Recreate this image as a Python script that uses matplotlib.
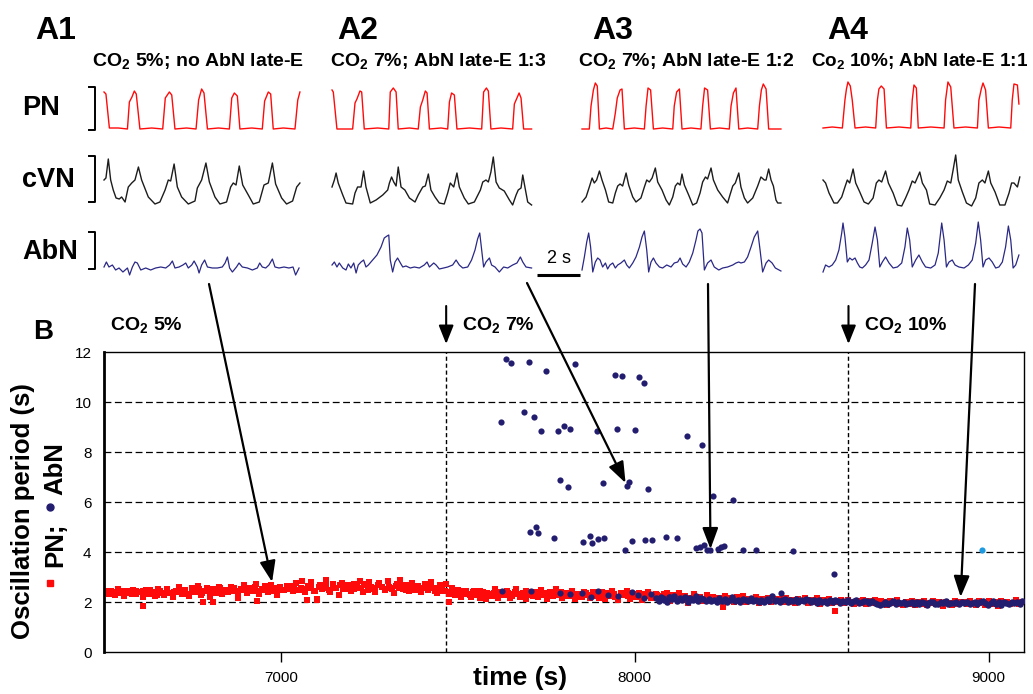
import numpy as np
import matplotlib
matplotlib.use("Agg")
import matplotlib.pyplot as plt
from matplotlib.lines import Line2D

plt.rcParams['font.family'] = ['Liberation Sans', 'DejaVu Sans']
plt.rcParams['mathtext.fontset'] = 'custom'
plt.rcParams['mathtext.rm'] = 'Liberation Sans'
plt.rcParams['mathtext.bf'] = 'Liberation Sans:bold'

# ---------------- panel B data ----------------
# PN period (s), breath by breath, 6505 s .. 9095 s
red_y = [
    2.46, 2.33, 2.42, 2.28, 2.52, 2.38, 2.24, 2.44, 2.36, 2.50, 2.31, 2.40, 2.20, 2.48, 2.34, 2.42, 2.26, 2.54, 2.38, 2.30,
    2.52, 2.36, 2.20, 2.46, 2.60, 2.32, 2.50, 2.24, 2.55, 2.42, 2.64, 2.30, 2.46, 2.58, 2.22, 2.50, 2.38, 2.62, 2.34, 2.48,
    2.40, 2.62, 2.46, 2.18, 2.54, 2.68, 2.36, 2.58, 2.44, 2.74, 2.32, 2.50, 2.64, 2.42, 2.70, 2.47, 2.28, 2.60, 2.48, 2.66,
    2.66, 2.44, 2.76, 2.50, 2.84, 2.40, 2.60, 2.80, 2.46, 2.14, 2.70, 2.55, 2.90, 2.42, 2.72, 2.56, 2.30, 2.78, 2.52, 2.68,
    2.46, 2.74, 2.58, 2.84, 2.40, 2.68, 2.80, 2.54, 2.42, 2.78, 2.62, 2.48, 2.86, 2.58, 2.36, 2.74, 2.88, 2.52, 2.68, 2.44,
    2.76, 2.50, 2.66, 2.40, 2.72, 2.48, 2.82, 2.58, 2.36, 2.68, 2.44, 2.74, 2.34, 2.56, 2.28, 2.50, 2.22, 2.44, 2.32, 2.20,
    2.46, 2.28, 2.18, 2.40, 2.12, 2.34, 2.24, 2.52, 2.16, 2.38, 2.28, 2.44, 2.18, 2.32, 2.52, 2.22, 2.36, 2.14, 2.42, 2.28,
    2.40, 2.20, 2.48, 2.30, 2.14, 2.42, 2.24, 2.52, 2.32, 2.16, 2.38, 2.26, 2.46, 2.12, 2.34, 2.22, 2.42, 2.30, 2.18, 2.40,
    2.32, 2.18, 2.40, 2.12, 2.28, 2.46, 2.22, 2.08, 2.36, 2.27, 2.44, 2.14, 2.32, 2.20, 2.38, 2.10, 2.28, 2.42, 2.16, 2.26,
    2.28, 2.12, 2.34, 2.20, 2.06, 2.30, 2.14, 2.36, 2.08, 2.24, 1.98, 2.18, 2.32, 2.10, 2.22, 2.04, 2.28, 2.14, 2.20, 2.08,
    2.18, 2.04, 2.24, 2.08, 2.16, 2.00, 2.20, 2.10, 2.26, 2.02, 2.14, 2.06, 2.22, 1.98, 2.12, 2.08, 2.18, 2.02, 2.14, 2.06,
    2.14, 2.00, 2.16, 2.02, 2.10, 1.96, 2.12, 2.04, 2.18, 1.98, 2.08, 2.02, 2.16, 1.94, 2.10, 2.02, 2.14, 1.98, 2.06, 2.00,
    2.08, 1.96, 2.10, 2.00, 1.92, 2.06, 1.98, 2.10, 1.92, 2.04, 1.96, 2.08, 1.94, 2.06, 2.00, 1.90, 2.04, 1.96, 2.10, 1.94,
    1.88, 2.02, 1.94, 2.06, 1.90, 2.00, 1.94, 2.04, 1.88, 1.98, 2.06, 1.92, 2.00, 1.86, 2.02, 1.96, 1.90, 2.04, 1.92, 2.00,
    2.02, 1.92, 2.06, 1.96, 1.88, 2.04, 1.98, 1.90, 2.06, 1.94, 2.00, 1.86, 2.04, 1.96, 2.02, 1.92, 1.98, 2.08, 1.94, 2.02,
]
red_t = np.linspace(6505, 9095, len(red_y))
# the breaths in between, 6510 s .. 8090 s (where the band is not hidden by AbN)
red_y2 = [
    2.38, 2.44, 2.34, 2.42, 2.46, 2.36, 2.40, 2.32, 2.45, 2.39,
    2.43, 2.35, 2.47, 2.40, 2.30, 2.44, 2.38, 2.49, 2.36, 2.42,
    2.40, 2.50, 2.44, 2.34, 2.48, 2.42, 2.52, 2.38, 2.46, 2.41,
    2.52, 2.44, 2.56, 2.40, 2.50, 2.46, 2.58, 2.42, 2.48, 2.54,
    2.56, 2.48, 2.60, 2.46, 2.54, 2.62, 2.50, 2.44, 2.58, 2.52,
    2.50, 2.60, 2.54, 2.66, 2.48, 2.58, 2.52, 2.64, 2.56, 2.46,
    2.62, 2.54, 2.68, 2.50, 2.60, 2.56, 2.70, 2.52, 2.64, 2.58,
    2.54, 2.64, 2.58, 2.72, 2.50, 2.62, 2.56, 2.68, 2.60, 2.52,
    2.60, 2.52, 2.66, 2.56, 2.70, 2.50, 2.62, 2.58, 2.64, 2.54,
    2.56, 2.48, 2.62, 2.44, 2.52, 2.58, 2.46, 2.40, 2.50, 2.42,
    2.42, 2.34, 2.46, 2.30, 2.40, 2.36, 2.44, 2.32, 2.38, 2.28,
    2.36, 2.28, 2.42, 2.32, 2.38, 2.26, 2.40, 2.34, 2.30, 2.44,
    2.34, 2.26, 2.40, 2.30, 2.36, 2.24, 2.38, 2.32, 2.28, 2.42,
    2.32, 2.24, 2.38, 2.28, 2.34, 2.22, 2.36, 2.30, 2.26, 2.40,
    2.30, 2.22, 2.36, 2.26, 2.32, 2.20, 2.34, 2.28, 2.24, 2.38,
    2.28, 2.20, 2.34, 2.24, 2.30, 2.18, 2.32, 2.26, 2.22, 2.36,
]
red_t2 = np.linspace(6510, 8090, len(red_y2))
red_out_t = [6610, 6780, 6808, 6933, 7074, 7102, 7474, 8250, 8565]
red_out_y = [1.84, 2.00, 2.00, 2.04, 2.10, 2.08, 2.00, 1.82, 1.65]

# AbN period (s) once AbN bursts every breath, 8060 s .. 9095 s
blue_y = [
    2.18, 2.06, 2.22, 2.09, 2.02, 2.19, 2.12, 2.25, 2.05, 2.16, 2.08, 2.21, 2.01, 2.15, 2.10, 2.24, 2.04, 2.16, 2.11, 2.06,
    2.14, 2.03, 2.10, 1.99, 2.17, 2.06, 2.12, 2.02, 2.09, 2.20, 2.04, 2.10, 2.00, 2.14, 2.08, 2.03, 2.16, 2.06, 2.10, 2.01,
    2.10, 2.01, 2.13, 2.05, 2.24, 2.03, 2.10, 1.99, 2.08, 2.14, 2.02, 2.10, 2.05, 2.12, 2.00, 2.08, 2.03, 2.11, 2.07, 2.01,
    2.07, 1.98, 2.10, 2.02, 2.05, 1.96, 2.08, 2.00, 2.07, 2.04, 1.95, 2.06, 2.00, 2.09, 1.98, 2.04, 2.07, 1.97, 2.02, 2.06,
    2.03, 1.95, 2.06, 1.98, 1.92, 1.90, 1.94, 2.00, 1.91, 1.97, 2.03, 1.93, 1.99, 1.96, 2.02, 1.91, 1.97, 2.01, 1.94, 1.99,
    1.93, 2.01, 1.96, 1.90, 1.99, 2.02, 1.94, 1.91, 1.99, 1.96, 2.04, 1.93, 1.98, 1.95, 2.01, 1.91, 1.99, 1.96, 2.02, 1.93,
    1.96, 2.02, 1.93, 1.99, 2.05, 1.95, 1.90, 1.98, 2.04, 1.93, 1.99, 1.89, 2.01, 1.96, 1.92, 2.02, 1.95, 1.99, 1.93, 2.04,
]
blue_t = np.linspace(8060, 9095, len(blue_y))
blue_mid_t = [7626, 7708, 7790, 7818, 7852, 7875, 7897, 7925, 7954, 7993, 8010, 8027, 8045, 8079, 8100, 8412]
blue_mid_y = [2.44, 2.44, 2.36, 2.32, 2.36, 2.22, 2.44, 2.28, 2.24, 2.40, 2.30, 2.16, 2.32, 2.16, 2.20, 2.36]
blue_hi_t = [7623, 7637, 7649, 7700, 7748, 7832, 7943, 7965, 8013, 8025, 7688, 7716, 7736, 7782, 7801,
             7818, 7892, 7951, 8002, 8149, 8189, 7790, 7810, 7909, 7979, 7985, 8036, 8220, 8279, 7705,
             7722, 7727, 7773, 7855, 7874, 7880, 7897, 7914, 7971, 7991, 8030, 8050, 8087, 8118, 8172,
             8183, 8197, 8205, 8214, 8234, 8243, 8251, 8305, 8344, 8446, 8562]
blue_hi_y = [9.2, 11.72, 11.56, 11.6, 11.24, 11.53, 11.08, 11.04, 11.0, 10.76, 9.6, 9.4, 8.84, 8.84, 9.04,
             8.92, 8.84, 8.92, 8.88, 8.64, 8.28, 6.88, 6.6, 6.76, 6.64, 6.8, 6.52, 6.24, 6.08, 4.8,
             5.0, 4.76, 4.56, 4.4, 4.64, 4.36, 4.52, 4.56, 4.08, 4.44, 4.48, 4.48, 4.6, 4.56, 4.16,
             4.2, 4.28, 4.08, 4.08, 4.12, 4.2, 4.24, 4.08, 4.08, 4.04, 3.12]
cyan_t, cyan_y = [8981], [4.08]

co2_7_time = 7467
co2_10_time = 8604
arrow_targets_t = [6975, 7974, 8214, 8921]   # where A1..A4 recordings sit on the time axis
arrow_targets_y = [2.8, 6.76, 4.12, 2.2]

# ---------------- panel A traces (time s, amplitude a.u.) ----------------
a1_pn_t = [0.00, 0.09, 0.25, 0.67, 1.09, 1.18, 1.30, 1.41, 1.50, 1.67, 2.22, 2.73, 2.85, 3.04, 3.15, 3.30, 3.84, 4.28, 4.40,
           4.54, 4.65, 4.81, 5.32, 5.83, 5.94, 6.06, 6.20, 6.32, 6.87, 7.36, 7.47, 7.64, 7.75, 7.87, 8.34, 8.88, 9.01, 9.11]
a1_pn_v = [37, 35, 1, 1, 0, 27, 32, 38, 35, 0, 1, 0, 31, 37, 34, 0, 1, 0, 29, 40, 36, 0, 1, 0, 31, 36, 33, 0, 1, 0, 28, 37,
           35, 0, 1, 0, 29, 37]
a1_cvn_t = [0.00, 0.09, 0.20, 0.31, 0.43, 0.56, 0.71, 0.82, 0.98, 1.13, 1.29, 1.44, 1.60, 1.75, 2.06, 2.37, 2.60, 2.84, 2.99,
            3.10, 3.26, 3.41, 3.61, 3.92, 4.23, 4.34, 4.54, 4.74, 4.90, 5.16, 5.39, 5.70, 5.89, 6.01, 6.14, 6.29, 6.45, 6.71,
            6.94, 7.22, 7.44, 7.64, 7.83, 7.98, 8.26, 8.49, 8.77, 8.96, 9.11]
a1_cvn_v = [26, 28, 47, 26, 16, 8, 7, 9, 4, 19, 23, 26, 39, 26, 9, 2, 4, 16, 26, 25, 42, 19, 9, 2, 5, 18, 26, 43, 24, 9, 2,
            4, 19, 23, 21, 40, 21, 11, 2, 4, 21, 23, 43, 22, 8, 2, 5, 19, 23]
a1_abn_t = [0.00, 0.11, 0.23, 0.39, 0.54, 0.70, 0.88, 1.09, 1.19, 1.32, 1.44, 1.55, 1.71, 1.94, 2.17, 2.40, 2.64, 2.87, 3.05,
            3.18, 3.30, 3.49, 3.67, 3.80, 3.92, 4.08, 4.19, 4.34, 4.42, 4.54, 4.68, 4.81, 5.04, 5.27, 5.50, 5.63, 5.74, 5.84,
            5.97, 6.16, 6.28, 6.43, 6.67, 6.90, 7.13, 7.24, 7.36, 7.52, 7.67, 7.83, 7.95, 8.14, 8.37, 8.60, 8.79, 8.91, 9.07]
a1_abn_v = [5, 10, 5, 7, 2, 4, 0, 4, -3, 5, 10, 9, 2, 4, 2, 4, 5, 4, 7, 11, 4, 5, 7, 9, 4, 7, 11, 5, -1, 7, 12, 5, 4, 4, 5,
            9, 15, 4, 0, 5, 9, 5, 4, 2, 4, 9, 5, 4, 7, 13, 5, 4, 5, 4, 5, -3, 4]

a2_pn_t = [0.00, 0.06, 0.23, 0.96, 1.07, 1.16, 1.30, 1.38, 1.50, 2.12, 2.64, 2.71, 2.85, 2.98, 3.08, 3.60, 4.01, 4.11, 4.22,
           4.34, 4.42, 4.53, 5.07, 5.38, 5.46, 5.56, 5.69, 5.81, 6.39, 6.96, 7.05, 7.18, 7.27, 7.39, 7.86, 8.40, 8.48, 8.60,
           8.70, 8.79, 8.91, 9.28]
a2_pn_v = [39, 37, 0, 0, 26, 30, 38, 37, 0, 1, 0, 37, 41, 37, 0, 1, 0, 22, 29, 38, 36, 0, 1, 0, 27, 36, 34, 0, 1, 0, 37, 41,
           38, 0, 1, 0, 25, 31, 36, 31, 0, 0]
a2_cvn_t = [0.00, 0.11, 0.19, 0.29, 0.50, 0.65, 0.96, 1.07, 1.19, 1.35, 1.47, 1.58, 1.78, 2.05, 2.36, 2.59, 2.67, 2.77, 2.87,
            2.98, 3.08, 3.21, 3.39, 3.60, 3.86, 4.01, 4.22, 4.34, 4.48, 4.60, 4.79, 4.99, 5.22, 5.38, 5.50, 5.66, 5.81, 5.92,
            6.15, 6.34, 6.62, 6.90, 7.01, 7.16, 7.27, 7.39, 7.50, 7.63, 7.78, 8.01, 8.25, 8.40, 8.56, 8.66, 8.79, 8.87, 8.97,
            9.10, 9.28]
a2_cvn_v = [19, 26, 33, 23, 11, 3, 2, 13, 19, 19, 35, 19, 3, 6, 11, 16, 23, 29, 24, 20, 39, 19, 16, 8, 4, 11, 19, 20, 32, 16,
            9, 3, 2, 13, 23, 19, 33, 19, 8, 2, 4, 16, 24, 26, 24, 34, 49, 24, 18, 15, 6, 1, 11, 16, 18, 31, 19, 4, 1]
a2_abn_t = [0.00, 0.11, 0.23, 0.34, 0.50, 0.65, 0.76, 0.88, 1.01, 1.12, 1.22, 1.35, 1.47, 1.58, 1.69, 1.89, 2.09, 2.28, 2.43,
            2.56, 2.64, 2.71, 2.82, 2.93, 3.05, 3.18, 3.29, 3.44, 3.64, 3.83, 4.06, 4.29, 4.42, 4.53, 4.73, 4.84, 4.99, 5.19,
            5.38, 5.61, 5.77, 5.92, 6.08, 6.31, 6.49, 6.65, 6.77, 6.87, 6.96, 7.05, 7.16, 7.32, 7.42, 7.58, 7.78, 7.98, 8.17,
            8.40, 8.60, 8.76, 8.87, 9.02, 9.28]
a2_abn_v = [7, 10, 5, 9, 4, 2, 8, 4, 9, -1, 7, 10, 12, 5, 7, 12, 17, 25, 34, 36, 37, 12, 0, 10, 14, 9, 5, 6, 4, 5, 4, 7, 10,
            5, 9, 7, 3, 4, 5, 7, 12, 7, 4, 5, 12, 22, 33, 39, 22, 5, 10, 14, 7, 5, 0, 5, 4, 7, 9, 15, 10, 5, 4]

a3_pn_t = [0.00, 0.34, 0.42, 0.53, 0.62, 0.71, 0.81, 1.12, 1.43, 1.55, 1.64, 1.77, 1.86, 1.97, 2.43, 2.90, 2.98, 3.07, 3.19,
           3.32, 3.75, 4.22, 4.29, 4.40, 4.53, 4.65, 5.07, 5.53, 5.61, 5.70, 5.84, 5.97, 6.39, 6.85, 6.93, 7.04, 7.16, 7.29,
           7.70, 8.17, 8.25, 8.34, 8.43, 8.56, 8.68, 9.25]
a3_pn_v = [0, 0, 23, 39, 46, 43, 0, 1, 0, 16, 31, 39, 40, 0, 1, 0, 23, 41, 39, 0, 1, 0, 23, 37, 40, 0, 1, 0, 23, 41, 39, 0,
           1, 0, 23, 36, 41, 0, 1, 0, 23, 39, 45, 40, 0, 0]
a3_cvn_t = [0.00, 0.19, 0.34, 0.47, 0.57, 0.68, 0.81, 0.93, 1.09, 1.24, 1.43, 1.55, 1.66, 1.77, 1.89, 2.05, 2.17, 2.36, 2.51,
            2.74, 2.90, 3.01, 3.13, 3.26, 3.41, 3.52, 3.72, 3.91, 4.06, 4.22, 4.34, 4.45, 4.56, 4.65, 4.76, 4.96, 5.15, 5.33,
            5.49, 5.61, 5.74, 5.84, 6.00, 6.11, 6.31, 6.54, 6.77, 6.88, 7.01, 7.13, 7.29, 7.39, 7.55, 7.70, 7.94, 8.17, 8.32,
            8.48, 8.56, 8.68, 8.79, 8.90, 9.02, 9.10, 9.25]
a3_cvn_v = [4, 9, 19, 28, 23, 26, 35, 26, 16, 4, 3, 13, 20, 22, 20, 33, 21, 9, 4, 8, 19, 26, 24, 28, 38, 24, 16, 6, 1, 9, 20,
            23, 21, 32, 21, 11, 1, 3, 13, 24, 29, 27, 38, 26, 16, 9, 3, 11, 20, 23, 33, 19, 8, 3, 8, 20, 29, 26, 26, 37, 26,
            20, 6, 3, 3]
a3_abn_t = [0.00, 0.11, 0.22, 0.31, 0.40, 0.50, 0.62, 0.73, 0.84, 0.96, 1.09, 1.19, 1.30, 1.43, 1.55, 1.66, 1.81, 1.97, 2.08,
            2.20, 2.36, 2.51, 2.67, 2.79, 2.90, 3.01, 3.10, 3.21, 3.32, 3.44, 3.60, 3.75, 3.94, 4.14, 4.29, 4.45, 4.56, 4.68,
            4.84, 4.99, 5.15, 5.30, 5.39, 5.49, 5.58, 5.69, 5.84, 6.00, 6.15, 6.36, 6.54, 6.77, 7.01, 7.16, 7.29, 7.39, 7.55,
            7.70, 7.86, 8.01, 8.17, 8.28, 8.40, 8.56, 8.68, 8.84, 8.99, 9.25]
a3_abn_v = [2, 15, 30, 39, 25, 0, 10, 14, 12, 5, 9, 3, 7, 9, 4, 7, 9, 12, 7, 4, 9, 15, 25, 35, 41, 22, 0, 10, 14, 9, 5, 4,
            7, 5, 9, 10, 14, 8, 5, 10, 19, 32, 41, 43, 39, 2, 9, 12, 5, 2, 4, 5, 7, 9, 10, 9, 10, 15, 25, 35, 41, 22, 0, 9,
            12, 9, 4, 1]

a4_pn_t = [0.00, 0.43, 0.90, 1.02, 1.09, 1.16, 1.27, 1.36, 1.49, 1.98, 2.45, 2.53, 2.60, 2.71, 2.84, 2.95, 3.53, 4.08, 4.15,
           4.23, 4.34, 4.43, 5.01, 5.63, 5.70, 5.81, 5.94, 6.09, 6.63, 7.18, 7.25, 7.36, 7.44, 7.56, 7.69, 8.18, 8.73, 8.80,
           8.88, 9.04, 9.11]
a4_pn_v = [1, 2, 1, 29, 40, 47, 43, 29, 1, 2, 1, 29, 40, 43, 40, 1, 2, 1, 29, 44, 41, 1, 2, 1, 29, 47, 42, 1, 2, 1, 29, 40,
           46, 39, 1, 2, 1, 29, 45, 44, 25]
a4_cvn_t = [0.00, 0.12, 0.28, 0.51, 0.67, 0.87, 1.02, 1.13, 1.24, 1.40, 1.52, 1.71, 1.91, 2.11, 2.33, 2.48, 2.60, 2.73, 2.91,
            3.04, 3.26, 3.46, 3.66, 3.84, 4.00, 4.15, 4.28, 4.50, 4.62, 4.81, 4.96, 5.21, 5.43, 5.63, 5.78, 5.94, 6.05, 6.17,
            6.29, 6.48, 6.67, 6.91, 7.10, 7.25, 7.41, 7.53, 7.69, 7.80, 8.00, 8.22, 8.46, 8.65, 8.77, 8.88, 9.04, 9.15]
a4_cvn_v = [26, 23, 13, 3, 3, 9, 19, 26, 23, 37, 23, 14, 4, 2, 8, 23, 26, 24, 35, 23, 13, 1, 0, 8, 16, 25, 23, 34, 23, 16, 2,
            1, 8, 16, 25, 23, 36, 51, 26, 14, 3, 0, 8, 23, 26, 23, 35, 23, 14, 1, 1, 13, 23, 23, 19, 29]
a4_abn_t = [0.00, 0.12, 0.28, 0.43, 0.59, 0.74, 0.87, 0.93, 1.02, 1.13, 1.24, 1.36, 1.49, 1.60, 1.71, 1.83, 1.98, 2.14, 2.29,
            2.42, 2.53, 2.64, 2.76, 2.91, 3.07, 3.26, 3.46, 3.66, 3.81, 3.92, 4.03, 4.15, 4.31, 4.46, 4.62, 4.77, 5.01, 5.21,
            5.36, 5.52, 5.63, 5.74, 5.86, 6.01, 6.14, 6.32, 6.56, 6.76, 6.94, 7.10, 7.22, 7.33, 7.44, 7.56, 7.72, 7.87, 8.03,
            8.18, 8.34, 8.49, 8.62, 8.73, 8.84, 8.96, 9.11]
a4_abn_v = [0, 7, 5, 7, 12, 22, 39, 49, 35, 10, 14, 12, 14, 9, 5, 4, 7, 12, 29, 45, 32, 5, 10, 15, 9, 4, 5, 9, 25, 44, 32,
            5, 12, 17, 10, 5, 4, 7, 19, 49, 32, 5, 10, 12, 7, 5, 4, 7, 12, 29, 50, 32, 5, 12, 14, 10, 4, 5, 10, 25, 46, 32,
            4, 7, 17]

panel_names = ['A1', 'A2', 'A3', 'A4']
panel_titles = ['CO$_\\mathbf{2}$ 5%; no AbN late-E', 'CO$_\\mathbf{2}$ 7%; AbN late-E 1:3',
                'CO$_\\mathbf{2}$ 7%; AbN late-E 1:2', 'Co$_\\mathbf{2}$ 10%; AbN late-E 1:1']

RED = '#ff0a0a'
NAVY = '#221d6e'
TRACE_NAVY = '#2a2885'

W, H = 1033, 694
fig = plt.figure(figsize=(W / 100, H / 100), dpi=100)


def fx(px):
    return px / W


def fy(py):
    return 1 - py / H


# ---------------- panel B ----------------
ax = fig.add_axes([fx(104), fy(652), (1024 - 104) / W, (652 - 352) / H])
ax.set_xlim(6500, 9100)
ax.set_ylim(0, 12)
for g in [2, 4, 6, 8, 10]:
    ax.axhline(g, color='k', lw=0.9, ls=(0, (5.5, 2.8)), zorder=1)
for v in [co2_7_time, co2_10_time]:
    ax.axvline(v, color='k', lw=1.0, ls=(0, (3, 2)), zorder=1)

ax.scatter(red_t, red_y, marker='s', s=22, color=RED, lw=0, zorder=2)
ax.scatter(red_t2, red_y2, marker='s', s=22, color=RED, lw=0, zorder=2)
ax.scatter(red_out_t, red_out_y, marker='s', s=22, color=RED, lw=0, zorder=2)
ax.scatter(blue_mid_t, blue_mid_y, marker='o', s=20, color=NAVY, lw=0, zorder=3)
ax.scatter(blue_t, blue_y, marker='o', s=22, color=NAVY, lw=0, zorder=3)
ax.scatter(blue_hi_t, blue_hi_y, marker='o', s=20, color=NAVY, lw=0, zorder=3)
ax.scatter(cyan_t, cyan_y, marker='o', s=20, color='#1e9be0', lw=0, zorder=3)

ax.set_yticks(range(0, 13, 2))
ax.set_xticks([7000, 8000, 9000])
ax.tick_params(axis='y', length=0, pad=9, labelsize=11)
ax.tick_params(axis='x', length=7, width=1, pad=7, labelsize=11, direction='out')
for side in ['top', 'right', 'bottom']:
    ax.spines[side].set_linewidth(1.0)
ax.spines['left'].set_linewidth(2.0)
ax.set_xlabel('time (s)', fontsize=19, fontweight='bold')
ax.xaxis.set_label_coords(0.452, -0.045)

# y label, two lines, second with marker keys
fig.text(fx(23), fy(511), 'Oscillation period (s)', rotation=90, ha='center', va='center',
         fontsize=18.5, fontweight='bold')
fig.add_artist(Line2D([fx(50)], [fy(583)], marker='s', ms=5, color=RED, lw=0, transform=fig.transFigure))
fig.text(fx(55), fy(545), 'PN;', rotation=90, ha='center', va='center', fontsize=18.5, fontweight='bold')
fig.add_artist(Line2D([fx(50)], [fy(507)], marker='o', ms=5, color=NAVY, lw=0, transform=fig.transFigure))
fig.text(fx(55), fy(469), 'AbN', rotation=90, ha='center', va='center', fontsize=18.5, fontweight='bold')

fig.text(fx(33), fy(339), 'B', fontsize=20, fontweight='bold', va='baseline')
fig.text(fx(110), fy(331), 'CO$_\\mathbf{2}$ 5%', fontsize=14, fontweight='bold', va='baseline')
fig.text(fx(462), fy(331), 'CO$_\\mathbf{2}$ 7%', fontsize=14, fontweight='bold', va='baseline')
fig.text(fx(864), fy(331), 'CO$_\\mathbf{2}$ 10%', fontsize=14, fontweight='bold', va='baseline')

small_arrow = dict(arrowstyle='-|>,head_length=0.75,head_width=0.3', lw=1.5, color='k',
                   shrinkA=0, shrinkB=0, mutation_scale=15)
for v in [co2_7_time, co2_10_time]:
    ax.annotate('', xy=(v, fy(344)), xytext=(v, fy(306)), xycoords=('data', 'figure fraction'),
                textcoords=('data', 'figure fraction'), arrowprops=small_arrow, annotation_clip=False)

# long arrows from each recording to its place on the time axis
tails = [(209, 284), (527, 283), (708, 284), (975, 284)]
big_arrow = dict(arrowstyle='-|>,head_length=0.8,head_width=0.3', lw=1.6, color='k',
                 shrinkA=0, shrinkB=0, mutation_scale=16)
for (tx, ty), at, ay in zip(tails, arrow_targets_t, arrow_targets_y):
    ax.annotate('', xy=(at, ay), xytext=(fx(tx), fy(ty)), xycoords='data',
                textcoords='figure fraction', arrowprops=big_arrow, annotation_clip=False, zorder=5)

# ---------------- panel A traces ----------------
panel_left = [104, 332, 582, 823]
traces = [
    [(a1_pn_t, a1_pn_v), (a1_cvn_t, a1_cvn_v), (a1_abn_t, a1_abn_v)],
    [(a2_pn_t, a2_pn_v), (a2_cvn_t, a2_cvn_v), (a2_abn_t, a2_abn_v)],
    [(a3_pn_t, a3_pn_v), (a3_cvn_t, a3_cvn_v), (a3_abn_t, a3_abn_v)],
    [(a4_pn_t, a4_pn_v), (a4_cvn_t, a4_cvn_v), (a4_abn_t, a4_abn_v)],
]
row_offset = [151, 74, 8]
row_color = [RED, '#1c1c1c', TRACE_NAVY]
row_lw = [1.0, 1.0, 0.9]
trace_axes = []
for left, rows in zip(panel_left, traces):
    ta = fig.add_axes([fx(left), fy(280), 200 / W, 200 / H])
    ta.set_xlim(0, 9.3)
    ta.set_ylim(0, 200)
    ta.axis('off')
    for (t, v), off, c, lw in zip(rows, row_offset, row_color, row_lw):
        ta.plot(t, np.array(v) + off, color=c, lw=lw, clip_on=False)
    trace_axes.append(ta)

# calibration brackets next to A1
ta1 = trace_axes[0]
for top, bot in [(193, 150), (124, 78), (48, 11)]:
    ta1.plot([-0.70, -0.42, -0.42, -0.70], [top, top, bot, bot], color='k', lw=1.4, clip_on=False)

# 2 s scale bar next to A3
ta3 = trace_axes[2]
ta3.plot([-2.09, -0.09], [5, 5], color='k', lw=2.2, clip_on=False, solid_capstyle='butt')
ta3.text(-1.09, 17, '2 s', ha='center', va='baseline', fontsize=13)

# labels
title_x = [92, 330, 578, 811]
title_size = [14, 14, 14, 13.6]
for name, title, lx, sx, fs in zip(panel_names, panel_titles, [35, 337, 592, 827], title_x, title_size):
    fig.text(fx(lx), fy(39), name, fontsize=23, fontweight='bold', va='baseline')
    fig.text(fx(sx), fy(67), title, fontsize=fs, fontweight='bold', va='baseline')
for lab, by in [('PN', 115), ('cVN', 187), ('AbN', 259)]:
    fig.text(fx(22), fy(by), lab, fontsize=19.5, fontweight='bold', va='baseline')

fig.savefig('out.png', dpi=100)
